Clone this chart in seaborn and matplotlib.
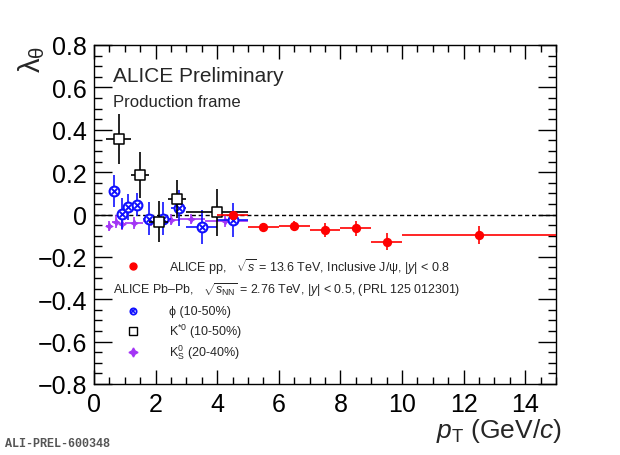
import matplotlib
matplotlib.use('Agg')
import matplotlib.pyplot as plt
import pandas as pd
import seaborn as sns
from matplotlib.ticker import MultipleLocator

# ALICE pp, inclusive J/psi (13.6 TeV)
pp_x = [4.5, 5.5, 6.5, 7.5, 8.5, 9.5, 12.5]
pp_lo = [4.0, 5.0, 6.0, 7.0, 8.0, 9.0, 10.0]
pp_hi = [5.0, 6.0, 7.0, 8.0, 9.0, 10.0, 15.0]
pp_y = [0.0, -0.060, -0.055, -0.073, -0.066, -0.128, -0.097]
pp_err = [0.008, 0.020, 0.024, 0.032, 0.036, 0.040, 0.043]

# phi (10-50%) Pb-Pb
phi_x = [0.65, 0.9, 1.1, 1.4, 1.8, 2.25, 2.75, 3.5, 4.5]
phi_lo = [0.5, 0.8, 1.0, 1.2, 1.6, 2.0, 2.5, 3.0, 4.0]
phi_hi = [0.8, 1.0, 1.2, 1.6, 2.0, 2.5, 3.0, 4.0, 5.0]
phi_y = [0.111, 0.004, 0.036, 0.047, -0.019, -0.019, 0.032, -0.058, -0.027]
phi_err = [0.074, 0.072, 0.062, 0.056, 0.080, 0.080, 0.085, 0.080, 0.080]

# K*0 (10-50%) Pb-Pb
kst_x = [0.8, 1.5, 2.1, 2.7, 4.0]
kst_lo = [0.4, 1.2, 1.8, 2.4, 3.0]
kst_hi = [1.2, 1.8, 2.4, 3.0, 5.0]
kst_y = [0.355, 0.185, -0.035, 0.072, 0.010]
kst_err = [0.118, 0.108, 0.097, 0.090, 0.110]

# K0S (20-40%) Pb-Pb
k0s_x = [0.5, 0.7, 0.9, 1.3, 1.85, 2.5, 3.15, 4.25]
k0s_lo = [0.4, 0.6, 0.8, 1.0, 1.6, 2.2, 2.8, 3.6]
k0s_hi = [0.6, 0.8, 1.0, 1.6, 2.2, 2.8, 3.6, 5.0]
k0s_y = [-0.055, -0.035, -0.045, -0.040, -0.030, -0.024, -0.022, -0.030]
k0s_err = [0.025, 0.031, 0.030, 0.028, 0.025, 0.025, 0.025, 0.030]

RED = '#ff0000'
BLUE = '#1010ff'
PURPLE = '#a335f5'

sns.set_theme(style='ticks')
plt.rcParams['font.family'] = ['Liberation Sans', 'DejaVu Sans']
plt.rcParams['mathtext.fontset'] = 'custom'
plt.rcParams['mathtext.rm'] = 'Liberation Sans'
plt.rcParams['mathtext.it'] = 'Liberation Sans:italic'
plt.rcParams['mathtext.bf'] = 'Liberation Sans:bold'


def draw_series(ax, x, lo, hi, y, err, color, z):
    df = pd.DataFrame({'x': x, 'lo': lo, 'hi': hi, 'y': y, 'err': err})
    xerr = [df['x'] - df['lo'], df['hi'] - df['x']]
    ax.errorbar(df['x'], df['y'], xerr=xerr, yerr=df['err'], fmt='none',
                ecolor=color, elinewidth=1.2, capsize=0, zorder=z)
    return df


fig = plt.figure(figsize=(6.2, 4.56), dpi=100)
ax = fig.add_axes([94 / 620, 71 / 456, 462 / 620, 339 / 456])

ax.axhline(0, color='black', lw=1, ls=(0, (3, 2)), zorder=1)

df = draw_series(ax, k0s_x, k0s_lo, k0s_hi, k0s_y, k0s_err, PURPLE, 2)
sns.scatterplot(data=df, x='x', y='y', ax=ax, marker=(4, 1, 0), s=28,
                color=PURPLE, edgecolor=PURPLE, linewidth=0.6, zorder=2.5)

df = draw_series(ax, phi_x, phi_lo, phi_hi, phi_y, phi_err, BLUE, 3)
sns.scatterplot(data=df, x='x', y='y', ax=ax, marker='o', s=50,
                facecolor='white', edgecolor=BLUE, linewidth=1.5, zorder=3.5)
sns.scatterplot(data=df, x='x', y='y', ax=ax, marker='x', s=16,
                color=BLUE, linewidth=1.4, zorder=3.6)

df = draw_series(ax, kst_x, kst_lo, kst_hi, kst_y, kst_err, 'black', 4)
sns.scatterplot(data=df, x='x', y='y', ax=ax, marker='s', s=55,
                facecolor='white', edgecolor='black', linewidth=1.1, zorder=4.5)

df = draw_series(ax, pp_x, pp_lo, pp_hi, pp_y, pp_err, RED, 5)
sns.scatterplot(data=df, x='x', y='y', ax=ax, marker='o', s=45,
                color=RED, edgecolor=RED, linewidth=0, zorder=5.5)

ax.set_xlim(0, 15)
ax.set_ylim(-0.8, 0.8)
ax.xaxis.set_major_locator(MultipleLocator(2))
ax.xaxis.set_minor_locator(MultipleLocator(0.5))
ax.yaxis.set_major_locator(MultipleLocator(0.2))
ax.yaxis.set_minor_locator(MultipleLocator(0.05))
ax.yaxis.set_major_formatter(plt.FuncFormatter(
    lambda v, p: '0' if abs(v) < 1e-9 else f'{v:.1f}'.replace('-', '\u2212')))
ax.tick_params(which='both', direction='in', top=True, right=True,
               colors='black', width=1)
ax.tick_params(axis='x', which='major', length=10, labelsize=18, pad=6)
ax.tick_params(axis='x', which='minor', length=5)
ax.tick_params(axis='y', which='major', length=13, labelsize=18, pad=5)
ax.tick_params(axis='y', which='minor', length=6)
for s in ax.spines.values():
    s.set_color('black')
    s.set_linewidth(1)

ax.set_xlabel(r'$p_{\mathrm{T}}$ (GeV/$c$)', fontsize=19, loc='right')
ax.xaxis.set_label_coords(1.013, -0.093)
ax.set_ylabel(r'λ$_{\mathrm{\theta}}$', fontsize=21, loc='top')
ax.yaxis.set_label_coords(-0.102, 1.0)

ax.text(0.041, 0.91, 'ALICE Preliminary', transform=ax.transAxes,
        fontsize=15, va='center', ha='left')
ax.text(0.041, 0.832, 'Production frame', transform=ax.transAxes,
        fontsize=12, va='center', ha='left')

# legend block
mx, tx = 0.0844, 0.162
ax.plot([mx], [0.348], transform=ax.transAxes, marker='o', ms=5,
        color=RED, ls='none')
ax.text(tx, 0.348, r'ALICE pp,   $\sqrt{s}$ = 13.6 TeV, Inclusive J/ψ, |$y$| < 0.8',
        transform=ax.transAxes, fontsize=9, va='center')
ax.text(0.041, 0.280,
        r'ALICE Pb–Pb,   $\sqrt{s_{\mathrm{NN}}}$ = 2.76 TeV, |$y$| < 0.5, (PRL 125 012301)',
        transform=ax.transAxes, fontsize=8.9, va='center')
ax.plot([mx], [0.215], transform=ax.transAxes, marker='o', ms=4.5,
        mfc='white', mec=BLUE, mew=1.3, ls='none')
ax.plot([mx], [0.215], transform=ax.transAxes, marker='x', ms=2.5,
        color=BLUE, mew=1.2, ls='none')
ax.text(tx, 0.215, 'ϕ (10-50%)', transform=ax.transAxes, fontsize=9, va='center')
ax.plot([mx], [0.156], transform=ax.transAxes, marker='s', ms=5.5,
        mfc='white', mec='black', mew=1, ls='none')
ax.text(tx, 0.156, r'K$^{*0}$ (10-50%)', transform=ax.transAxes,
        fontsize=9, va='center')
ax.plot([mx], [0.094], transform=ax.transAxes, marker=(4, 1, 0), ms=6.5,
        color=PURPLE, mec=PURPLE, ls='none')
ax.text(tx, 0.094, r'K$^{0}_{\mathrm{S}}$ (20-40%)', transform=ax.transAxes,
        fontsize=9, va='center')

fig.text(5 / 620, 1 - 444 / 456, 'ALI-PREL-600348', fontsize=8.5,
         family='Liberation Mono', weight='bold', color='#555555',
         va='center', ha='left')

fig.savefig('out.png', dpi=100)
